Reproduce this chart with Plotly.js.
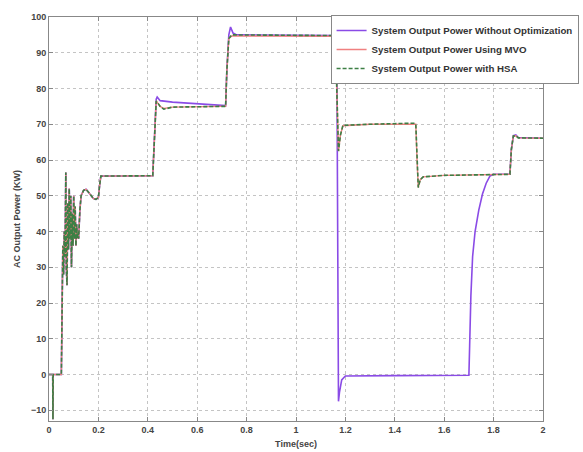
<!DOCTYPE html>
<html>
<head>
<meta charset="utf-8">
<script src="https://cdn.plot.ly/plotly-3.0.1.min.js"></script>
<style>html,body{margin:0;padding:0;background:#fff;}#chart{width:583px;height:452px;}</style>
</head>
<body>
<div id="chart"></div>
<script>
// Shared start-up transient (all three systems)
const tStart = [0, 0.015, 0.016, 0.017, 0.05, 0.053, 0.056, 0.059, 0.062, 0.065, 0.068, 0.07, 0.073, 0.076, 0.079, 0.082, 0.085, 0.088, 0.091, 0.094, 0.097, 0.1, 0.103, 0.106, 0.109, 0.112, 0.115, 0.118, 0.12, 0.125, 0.13, 0.14, 0.15, 0.16, 0.17, 0.18, 0.19, 0.2, 0.205, 0.21, 0.42];
const pStart = [0, 0, -12.5, 0, 0, 30, 36, 28, 40, 33, 56.5, 30, 25, 48, 35, 52, 38, 50, 30, 45, 36, 50, 38, 47, 36, 42, 38, 40, 38, 46, 50, 51.5, 51.8, 51, 50, 49.2, 49, 49.5, 53, 55.5, 55.6];

// System output power without optimization (after start-up)
const tNoOpt = [0.428, 0.434, 0.438, 0.45, 0.5, 0.6, 0.7, 0.715, 0.72, 0.728, 0.735, 0.745, 0.76, 1.0, 1.15, 1.165, 1.172, 1.176, 1.185, 1.2, 1.4, 1.7, 1.703, 1.708, 1.715, 1.725, 1.74, 1.755, 1.77, 1.785, 1.8, 1.866, 1.872, 1.88, 1.89, 1.9, 2.0];
const pNoOpt = [70, 77, 77.6, 76.6, 76.2, 75.8, 75.3, 75.2, 85, 95, 97.2, 95.5, 95, 95, 94.9, 94.8, -7.5, -5, -1.5, -0.4, -0.3, -0.2, 8, 22, 33, 40, 46, 50.5, 53.5, 55.5, 56, 56, 63, 66.8, 67, 66.3, 66.1];

// System output power using MVO
const tMVO = [0.428, 0.434, 0.44, 0.45, 0.465, 0.5, 0.7, 0.715, 0.72, 0.728, 0.74, 1.0, 1.16, 1.165, 1.172, 1.18, 1.19, 1.3, 1.48, 1.485, 1.49, 1.495, 1.503, 1.515, 1.6, 1.866, 1.872, 1.88, 1.89, 1.9, 2.0];
const pMVO = [70, 76.5, 76, 75, 74.4, 74.8, 75, 75, 85, 94, 94.7, 94.6, 94.6, 80, 62.5, 67, 69.6, 70, 70.2, 70, 60, 52.3, 54.5, 55.3, 55.7, 56, 63, 66.7, 66.8, 66.2, 66.1];

// System output power with HSA
const tHSA = [0.428, 0.434, 0.44, 0.45, 0.465, 0.5, 0.7, 0.715, 0.72, 0.728, 0.74, 1.0, 1.16, 1.165, 1.172, 1.18, 1.19, 1.3, 1.48, 1.485, 1.49, 1.495, 1.503, 1.515, 1.6, 1.866, 1.872, 1.88, 1.89, 1.9, 2.0];
const pHSA = [70, 76.5, 76, 75, 74.2, 74.8, 75, 75, 85, 94, 95, 95, 94.8, 80, 62.5, 67, 69.7, 70, 70.3, 70, 60, 52.3, 54.5, 55.3, 55.7, 56, 63, 66.7, 66.8, 66.2, 66.1];

const names = ['System Output Power Without Optimization', 'System Output Power Using MVO', 'System Output Power with HSA'];

const traces = [
  {x: tStart.concat(tNoOpt), y: pStart.concat(pNoOpt), name: names[0], mode: 'lines', line: {color: '#8a4be6', width: 1.6}},
  {x: tStart.concat(tMVO), y: pStart.concat(pMVO), name: names[1], mode: 'lines', line: {color: '#f08080', width: 1.4}},
  {x: tStart.concat(tHSA), y: pStart.concat(pHSA), name: names[2], mode: 'lines', line: {color: '#3d7f45', width: 1.6, dash: '4px,2px'}}
];

const FAM = 'Liberation Sans, Arial, sans-serif';
const fnt = {family: FAM, size: 9, color: '#444', weight: 'bold'};

const layout = {
  width: 583, height: 452,
  margin: {l: 49, r: 40, t: 17, b: 31, autoexpand: false},
  paper_bgcolor: '#fff', plot_bgcolor: '#fff',
  font: fnt,
  showlegend: true,
  legend: {x: 0.57, y: 1.005, xanchor: 'left', yanchor: 'top', bgcolor: '#fff', bordercolor: '#888', borderwidth: 1, font: {family: FAM, size: 9.7, color: '#333', weight: 'bold'}, tracegroupgap: 0},
  xaxis: {
    range: [0, 2], dtick: 0.2, tick0: 0,
    showgrid: true, gridcolor: '#c4c4c4', griddash: 'dot', gridwidth: 1,
    zeroline: false, showline: true, linecolor: '#888', linewidth: 1, mirror: 'ticks',
    ticks: 'inside', ticklen: 4, tickcolor: '#888',
    tickfont: fnt,
    title: {text: 'Time(sec)', font: fnt, standoff: 6}
  },
  yaxis: {
    range: [-13, 100], dtick: 10, tick0: 0,
    showgrid: true, gridcolor: '#c4c4c4', griddash: 'dot', gridwidth: 1,
    zeroline: false, showline: true, linecolor: '#888', linewidth: 1, mirror: 'ticks',
    ticks: 'inside', ticklen: 4, tickcolor: '#888',
    tickfont: fnt,
    title: {text: 'AC Output Power (KW)', font: fnt, standoff: 8}
  }
};

Plotly.newPlot('chart', traces, layout, {displayModeBar: false, staticPlot: true});
</script>
</body>
</html>
